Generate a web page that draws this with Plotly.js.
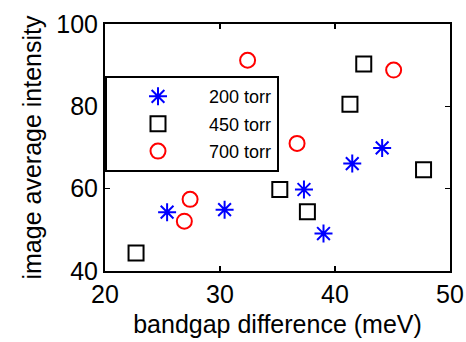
<!DOCTYPE html>
<html><head><meta charset="utf-8">
<script src="https://cdn.plot.ly/plotly-3.0.1.min.js"></script>
<style>html,body{margin:0;padding:0;background:#fff}</style>
</head><body><div id="c" style="width:466px;height:342px"></div>
<script>
const seriesNames = ["200 torr", "450 torr", "700 torr"];
const x200 = [25.4, 30.4, 37.3, 39.0, 41.5, 44.1];
const y200 = [54.3, 54.9, 59.8, 49.1, 66.1, 69.9];
const x450 = [22.7, 35.2, 37.6, 41.3, 42.5, 47.7];
const y450 = [44.4, 59.8, 54.4, 80.5, 90.3, 64.6];
const x700 = [32.4, 36.7, 45.1, 27.4, 26.9];
const y700 = [91.2, 71.0, 88.8, 57.4, 52.1];
const xTicks = [20, 30, 40, 50];
const yTicks = [40, 60, 80, 100];

const font = "Liberation Sans, Arial, sans-serif";
const traces = [
  {x: x200, y: y200, name: seriesNames[0], legendgroup: "a", mode: "markers", type: "scatter",
   marker: {symbol: "asterisk-open", size: 15, color: "#0000ff", line: {color: "#0000ff", width: 2}}},
  {x: x450, y: y450, name: seriesNames[1], legendgroup: "b", mode: "markers", type: "scatter",
   marker: {symbol: "square-open", size: 15, color: "#000000", line: {color: "#000000", width: 2}}},
  {x: x700, y: y700, name: seriesNames[2], legendgroup: "c", mode: "markers", type: "scatter",
   marker: {symbol: "circle-open", size: 15, color: "#ff0000", line: {color: "#ff0000", width: 2}}}
];
const axisCommon = {showline: true, linecolor: "#000", linewidth: 2, mirror: "ticks",
  ticks: "inside", ticklen: 5, tickwidth: 1.5, tickcolor: "#000", showgrid: false, zeroline: false,
  tickfont: {family: font, size: 25, color: "#000"}};
const layout = {
  width: 466, height: 342,
  margin: {l: 105, r: 16, t: 24, b: 71},
  paper_bgcolor: "#fff", plot_bgcolor: "#fff",
  xaxis: Object.assign({}, axisCommon, {range: [20, 50], tickvals: xTicks, ticktext: xTicks.map(String),
    title: {text: "bandgap difference (meV)", font: {family: font, size: 25, color: "#000"}, standoff: 8}}),
  yaxis: Object.assign({}, axisCommon, {range: [40, 100], tickvals: yTicks, ticktext: yTicks.map(String),
    title: {text: "image average intensity", font: {family: font, size: 25, color: "#000"}, standoff: 8}}),
  showlegend: true,
  legend: {x: 0, y: 0.789, xanchor: "left", yanchor: "top", bgcolor: "#fff",
    bordercolor: "#000", borderwidth: 2, itemwidth: 92, tracegroupgap: 1,
    font: {family: font, size: 18, color: "#000"}}
};
Plotly.newPlot("c", traces, layout, {displayModeBar: false, staticPlot: true});
</script></body></html>
